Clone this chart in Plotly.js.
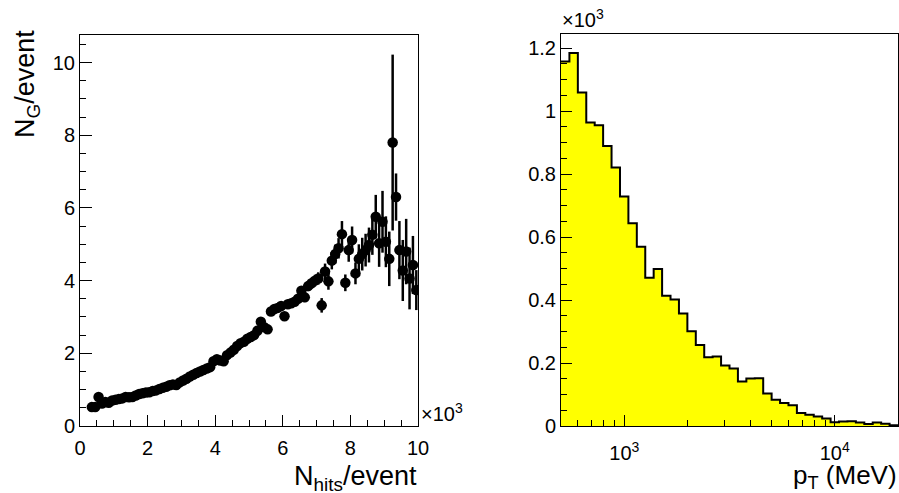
<!DOCTYPE html>
<html>
<head>
<meta charset="utf-8">
<script src="https://cdn.plot.ly/plotly-3.0.1.min.js"></script>
<style>html,body{margin:0;padding:0;background:#fff;}#chart{width:899px;height:493px;}</style>
</head>
<body>
<div id="chart"></div>
<script>
// Left panel: profile N_G/event vs N_hits/event (x in units of 10^3)
var nhits = [0.35,0.45,0.55,0.65,0.75,0.85,0.95,1.05,1.15,1.25,1.35,1.45,1.55,1.65,1.75,1.85,1.95,
  2.05,2.15,2.25,2.35,2.45,2.55,2.65,2.75,2.85,2.95,3.05,3.15,3.25,3.35,3.45,3.55,3.65,3.75,3.85,3.95,
  4.05,4.15,4.25,4.35,4.45,4.55,4.65,4.75,4.85,4.95,5.05,5.15,5.25,5.35,5.45,5.55,5.65,5.75,5.85,5.95,
  6.05,6.15,6.25,6.35,6.45,6.55,6.65,6.75,6.85,6.95,7.05,7.15,7.25,7.35,7.45,7.55,7.65,7.75,7.85,7.95,
  8.05,8.15,8.25,8.35,8.45,8.55,8.65,8.75,8.85,8.95,9.05,9.15,9.25,9.35,9.45,9.55,9.65,9.75,9.85,9.95];
var ngamma = [0.52,0.52,0.80,0.62,0.66,0.64,0.70,0.72,0.74,0.76,0.80,0.79,0.80,0.84,0.88,0.90,0.92,
  0.93,0.96,0.98,1.02,1.05,1.08,1.12,1.14,1.13,1.20,1.25,1.30,1.36,1.41,1.46,1.50,1.54,1.58,1.62,1.78,
  1.84,1.80,1.78,1.95,2.02,2.10,2.20,2.28,2.32,2.40,2.45,2.50,2.62,2.87,2.72,2.66,3.15,3.22,3.25,3.30,
  3.02,3.35,3.38,3.42,3.50,3.72,3.54,3.85,3.93,4.00,4.06,3.32,4.25,3.98,4.55,4.73,4.89,5.28,3.94,4.84,
  5.12,4.20,4.60,4.73,4.84,4.98,5.26,5.76,5.03,5.62,5.07,4.60,7.80,6.30,4.84,4.28,4.80,4.06,4.43,3.74];
var ngammaErr = [0.03,0.03,0.05,0.03,0.03,0.03,0.03,0.03,0.03,0.03,0.03,0.03,0.03,0.03,0.03,0.03,0.03,
  0.03,0.03,0.03,0.03,0.03,0.03,0.03,0.03,0.03,0.03,0.03,0.03,0.03,0.03,0.03,0.03,0.03,0.04,0.04,0.04,
  0.04,0.04,0.04,0.05,0.05,0.05,0.05,0.05,0.06,0.06,0.06,0.06,0.07,0.08,0.08,0.08,0.09,0.09,0.10,0.10,
  0.10,0.11,0.11,0.12,0.12,0.13,0.13,0.14,0.15,0.16,0.17,0.20,0.22,0.23,0.24,0.26,0.28,0.36,0.23,0.32,
  0.37,0.30,0.40,0.45,0.45,0.48,0.55,0.60,0.65,0.85,0.70,0.75,2.42,0.65,0.80,0.84,0.90,0.85,0.80,0.55];

// Right panel: p_T histogram, 40 log-uniform bins from 500 to 20000 MeV
var ptLow = 500, ptHigh = 20000, ptBins = 40;
var ptCounts = [1158,1185,1059,964,955,889,821,729,644,569,471,499,414,402,357,301,257,218,221,192,
  183,141,151,152,103,83,73,66,41,36,30,24,12,14,15,11,6,11,7,2];

var xTickVals = [0,2,4,6,8,10];
var yTickValsR = [0,200,400,600,800,1000,1200];
var yTickTextR = ['0','0.2','0.4','0.6','0.8','1','1.2'];
var logTickVals = [1000,10000];
var logTickText = ['10<sup>3</sup>','10<sup>4</sup>'];
var logMinorVals = [600,700,800,900,2000,3000,4000,5000,6000,7000,8000,9000,20000];

var edges = [];
for (var i = 0; i <= ptBins; i++) edges.push(ptLow * Math.pow(ptHigh/ptLow, i/ptBins));
var stepX = edges.slice();
var stepY = ptCounts.concat([ptCounts[ptCounts.length-1]]);

var FONT = 'Liberation Sans, Arial, sans-serif';

var traces = [
  {
    x: nhits, y: ngamma, type: 'scatter', mode: 'markers',
    marker: {color: 'black', size: 10.5},
    error_y: {type: 'data', array: ngammaErr, visible: true, thickness: 2.5, width: 0, color: 'black'},
    xaxis: 'x', yaxis: 'y', hoverinfo: 'x+y'
  },
  {
    x: stepX, y: stepY, type: 'scatter', mode: 'lines',
    line: {shape: 'hv', color: 'black', width: 2},
    fill: 'tozeroy', fillcolor: '#ffff00',
    xaxis: 'x2', yaxis: 'y2'
  }
];

var axCommon = {
  showline: true, linecolor: 'black', linewidth: 1, mirror: true,
  ticks: 'inside', tickcolor: 'black', tickwidth: 1,
  showgrid: false, zeroline: false,
  tickfont: {family: FONT, size: 20, color: 'black'}
};

var layout = {
  width: 899, height: 493,
  margin: {l: 0, r: 0, t: 0, b: 0},
  paper_bgcolor: 'white', plot_bgcolor: 'white',
  showlegend: false,
  font: {family: FONT, color: 'black'},
  xaxis: Object.assign({}, axCommon, {
    domain: [80/899, 418/899], range: [0, 10], tickmode: 'array', tickvals: xTickVals, ticklen: 11,
    ticklabelstandoff: 4,
    minor: {dtick: 0.5, ticks: 'inside', ticklen: 6, tickcolor: 'black', tickwidth: 1},
    anchor: 'y'
  }),
  yaxis: Object.assign({}, axCommon, {
    domain: [67/493, 458/493], range: [0, 10.76], dtick: 2, tick0: 0, ticklen: 12,
    minor: {dtick: 0.5, ticks: 'inside', ticklen: 6, tickcolor: 'black', tickwidth: 1},
    anchor: 'x'
  }),
  xaxis2: Object.assign({}, axCommon, {
    type: 'log', domain: [561/899, 898/899], range: [Math.log10(ptLow), Math.log10(ptHigh)],
    tickmode: 'array', tickvals: logTickVals, ticktext: logTickText, ticklen: 11,
    ticklabelstandoff: 9,
    minor: {tickmode: 'array', tickvals: logMinorVals, ticks: 'inside', ticklen: 6, tickcolor: 'black', tickwidth: 1},
    anchor: 'y2'
  }),
  yaxis2: Object.assign({}, axCommon, {
    domain: [67/493, 458.7/493], range: [0, 1244],
    tickmode: 'array', tickvals: yTickValsR, ticktext: yTickTextR, ticklen: 11,
    minor: {dtick: 50, ticks: 'inside', ticklen: 6, tickcolor: 'black', tickwidth: 1},
    anchor: 'x2'
  }),
  annotations: [
    {text: '×10<sup>3</sup>', xref: 'paper', yref: 'paper', x: 419/899, y: (493-427)/493,
     xanchor: 'left', yanchor: 'bottom', showarrow: false, font: {family: FONT, size: 20, color: 'black'}},
    {text: '×10<sup>3</sup>', xref: 'paper', yref: 'paper', x: 560/899, y: (493-33)/493,
     xanchor: 'left', yanchor: 'bottom', showarrow: false, font: {family: FONT, size: 20, color: 'black'}},
    {text: 'N<sub>hits</sub>/event', xref: 'paper', yref: 'paper', x: 419/899, y: 0, yshift: -4,
     xanchor: 'right', yanchor: 'bottom', showarrow: false, font: {family: FONT, size: 27, color: 'black'}},
    {text: 'p<sub>T</sub> (MeV)', xref: 'paper', yref: 'paper', x: 899/899, y: 0, yshift: -2,
     xanchor: 'right', yanchor: 'bottom', showarrow: false, font: {family: FONT, size: 26, color: 'black'}},
    {text: 'N<sub>G</sub>/event', xref: 'paper', yref: 'paper', x: 8/899, y: (493-28)/493,
     xanchor: 'left', yanchor: 'top', textangle: -90, showarrow: false, font: {family: FONT, size: 27, color: 'black'}}
  ]
};

Plotly.newPlot('chart', traces, layout, {displayModeBar: false, staticPlot: true});
</script>
</body>
</html>
